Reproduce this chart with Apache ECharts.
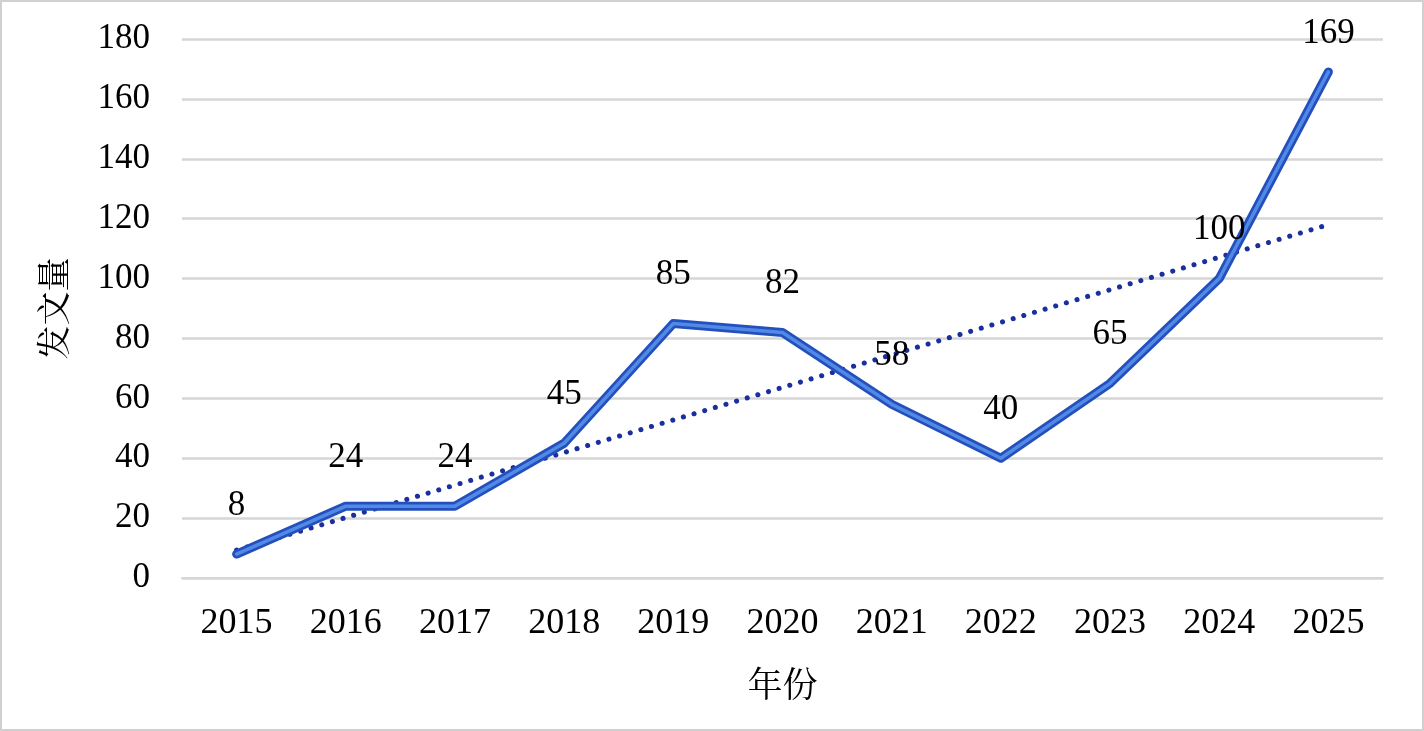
<!DOCTYPE html>
<html><head><meta charset="utf-8">
<script src="https://cdn.jsdelivr.net/npm/echarts@6/dist/echarts.min.js"></script>
<style>html,body{margin:0;padding:0;background:#fff}#c{width:1424px;height:731px;box-sizing:border-box;border:2px solid #d0d0d0}</style>
</head><body><div id="c"></div>
<script>
const years = ['2015','2016','2017','2018','2019','2020','2021','2022','2023','2024','2025'];
const counts = [8,24,24,45,85,82,58,40,65,100,169];
const trendStart = 9.3;
const trendEnd = 118;
const yTicks = [0,20,40,60,80,100,120,140,160,180];

const chart = echarts.init(document.getElementById('c'));
const serif = '"Liberation Serif","Times New Roman",serif';
const cjk = '"Noto Serif CJK SC","Noto Sans CJK SC",serif';
const labelled = counts.map((v, i) => i === counts.length - 1 ? {value: v, label: {distance: 20}} : v);
chart.setOption({
  animation:false,
  grid:{left:180,right:39,top:37,bottom:151,containLabel:false},
  xAxis:{type:'category',data:years,boundaryGap:true,
    axisLine:{lineStyle:{color:'#d6d6d6',width:2}},axisTick:{show:false},
    axisLabel:{color:'#000',fontFamily:serif,fontSize:36,margin:28},
    name:'年份',nameLocation:'middle',nameGap:88,
    nameTextStyle:{color:'#000',fontFamily:cjk,fontSize:35}},
  yAxis:{type:'value',min:yTicks[0],max:yTicks[yTicks.length-1],interval:20,
    axisLine:{show:false},axisTick:{show:false},
    splitLine:{lineStyle:{color:'#d6d6d6',width:2.5}},
    axisLabel:{color:'#000',fontFamily:serif,fontSize:35,margin:32},
    name:'发文量',nameLocation:'middle',nameGap:112,nameRotate:90,
    nameTextStyle:{color:'#000',fontFamily:cjk,fontSize:34}},
  series:[
    {type:'line',data:[[0,trendStart],[years.length-1,trendEnd]],symbol:'none',silent:true,
      lineStyle:{color:'#1a2e9e',width:5,type:[0.1,11],cap:'round'},z:1},
    {type:'line',data:counts,symbol:'none',
      lineStyle:{color:'#2350bd',width:9,cap:'round',join:'round'},z:2},
    {type:'line',data:labelled,symbol:'circle',symbolSize:2,showSymbol:true,
      itemStyle:{color:'rgba(0,0,0,0)',borderWidth:0},
      lineStyle:{color:'#5289e6',width:3.5,cap:'round',join:'round'},z:3,
      label:{show:true,position:'top',distance:30,color:'#000',fontFamily:serif,fontSize:35}}
  ]
});
</script></body></html>
